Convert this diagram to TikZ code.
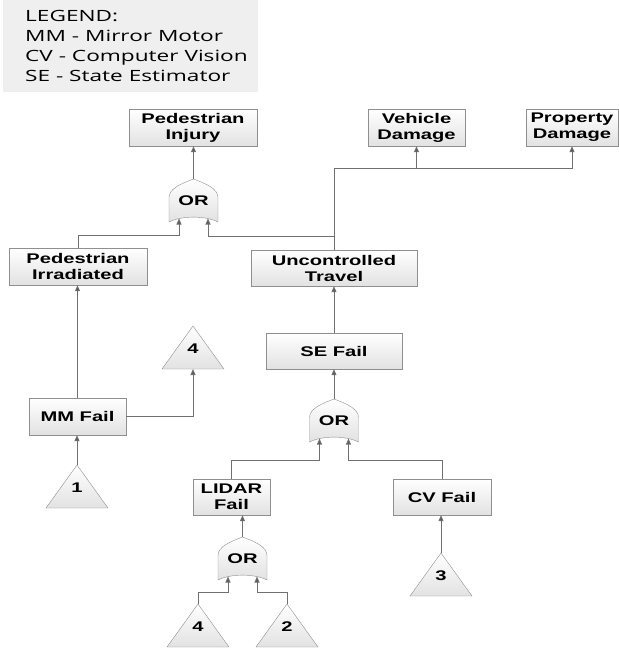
\documentclass[tikz,border=0pt]{standalone}
\usepackage{fontspec}
\usepackage{tikz}
\usetikzlibrary{arrows.meta, shadows}
\newfontfamily\boxfont[FakeStretch=1.44]{Liberation Sans}
\newfontfamily\legendfont[FakeStretch=1.46]{Open Sans}

\definecolor{linegray}{HTML}{707070}
\definecolor{edgegray}{HTML}{8F8F8F}
\definecolor{fillgray}{HTML}{E2E2E2}
\definecolor{legendgray}{HTML}{EFEFEF}

\tikzset{
  box/.style={draw=edgegray, top color=white, bottom color=fillgray,
    minimum height=37pt, inner sep=0pt, align=center,
    font=\boxfont\bfseries\fontsize{14}{16}\selectfont,
    drop shadow={shadow xshift=1pt, shadow yshift=-1pt, opacity=0.25}},
  gate/.style={draw=edgegray, top color=white, bottom color=fillgray},
  gatetext/.style={inner sep=0pt, font=\boxfont\bfseries\fontsize{14}{16}\selectfont},
  tri/.style={draw=edgegray, top color=white, bottom color=fillgray},
  trilabel/.style={inner sep=0pt, font=\boxfont\bfseries\fontsize{14}{16}\selectfont},
  line/.style={draw=linegray, line width=0.9pt},
  conn/.style={line, -{Triangle[width=5pt,length=6pt,fill=black!65]}}
}

% OR gate: name, centre x, centre y
\newcommand{\orgate}[3]{%
  \begin{scope}[shift={(#2,#3)}]
    \draw[gate] (-24.5,21.5) -- (-24.5,-3)
      .. controls (-24.5,-12) and (-12,-17) .. (0,-21.5)
      .. controls (12,-17) and (24.5,-12) .. (24.5,-3)
      -- (24.5,21.5) .. controls (12,15) and (-12,15) .. cycle;
    \node[gatetext] (#1) at (0,0) {OR};
    \coordinate (#1-t) at (0,-21.5);
    \coordinate (#1-l) at (-14.5,18);
    \coordinate (#1-r) at (14.5,18);
  \end{scope}}

% transfer triangle: name, apex x, apex y, label
\newcommand{\trievent}[4]{%
  \draw[tri] (#2,#3) coordinate (#1) -- ++(31,43) -- ++(-62,0) -- cycle;
  \coordinate (#1-base) at (#2,#3+43);
  \node[trilabel] (#1-txt) at (#2,#3+23) {#4};}

\begin{document}
\begin{tikzpicture}[x=1pt, y=-1pt]
  \useasboundingbox (0,0) rectangle (619,649);

  % Legend
  \fill[legendgray] (3,0) rectangle (258,92);
  \node[anchor=north west, inner sep=0pt, align=left,
    font=\legendfont\fontsize{15.5}{20}\selectfont] (legend) at (25,10)
    {LEGEND:\\MM - Mirror Motor\\CV - Computer Vision\\SE - State Estimator};

  % Events
  \node[box, minimum width=128pt] (pinj) at (193,127.5) {Pedestrian\\Injury};
  \node[box, minimum width=97pt] (vdmg) at (416.5,127.5) {Vehicle\\Damage};
  \node[box, minimum width=92pt] (pdmg) at (572,127.5) {Property\\Damage};
  \node[box, minimum width=138pt] (pirr) at (78,266.5) {Pedestrian\\Irradiated};
  \node[box, minimum width=166pt, minimum height=36pt] (uct) at (334,268) {Uncontrolled\\Travel};
  \node[box, minimum width=136pt, minimum height=36pt] (sef) at (334,351) {SE Fail};
  \node[box, minimum width=97pt] (mmf) at (77.5,416.5) {MM Fail};
  \node[box, minimum width=77pt, minimum height=36pt] (lidf) at (231.5,497) {LIDAR\\Fail};
  \node[box, minimum width=98pt, minimum height=36pt] (cvf) at (442,497) {CV Fail};

  % Gates
  \orgate{g1}{193.5}{200.5}
  \orgate{g2}{334}{420.5}
  \orgate{g3}{242.5}{558.5}

  % Transfers
  \trievent{t4a}{193}{326}{4}
  \trievent{t1}{77}{465}{1}
  \trievent{t3}{441}{553}{3}
  \trievent{t4b}{198}{604}{4}
  \trievent{t2}{287}{604}{2}

  % Connectors, top part
  \draw[conn] (g1-t) -- (g1-t |- pinj.south);
  \draw[conn] (pirr.north) -- ++(0,-12.5) -| (g1-l);
  \coordinate (dmgjoin) at (uct.north |- 0,168);
  \draw[conn] (uct.north) -- (dmgjoin) -| (pdmg.south);
  \draw[conn] (dmgjoin -| vdmg.south) -- (vdmg.south);
  \draw[conn] (uct.north |- 0,236) -| (g1-r);

  % Connectors, left part
  \draw[conn] (mmf.north) -- (mmf.north |- pirr.south);
  \draw[conn] (mmf.east) -| (t4a-base);
  \draw[conn] (t1) -- (t1 |- mmf.south);

  % Connectors, right part
  \draw[conn] (sef.north) -- (uct.south);
  \draw[conn] (g2-t) -- (sef.south);
  \draw[conn] (lidf.north) -- ++(0,-18) -| (g2-l);
  \draw[conn] (cvf.north) -- ++(0,-18) -| (g2-r);
  \draw[conn] (t3) -- (t3 |- cvf.south);

  % Connectors, bottom part
  \draw[conn] (g3-t) -- (g3-t |- lidf.south);
  \draw[conn] (t4b) -- ++(0,-12) -| (g3-l);
  \draw[conn] (t2) -- ++(0,-12) -| (g3-r);
\end{tikzpicture}
\end{document}
